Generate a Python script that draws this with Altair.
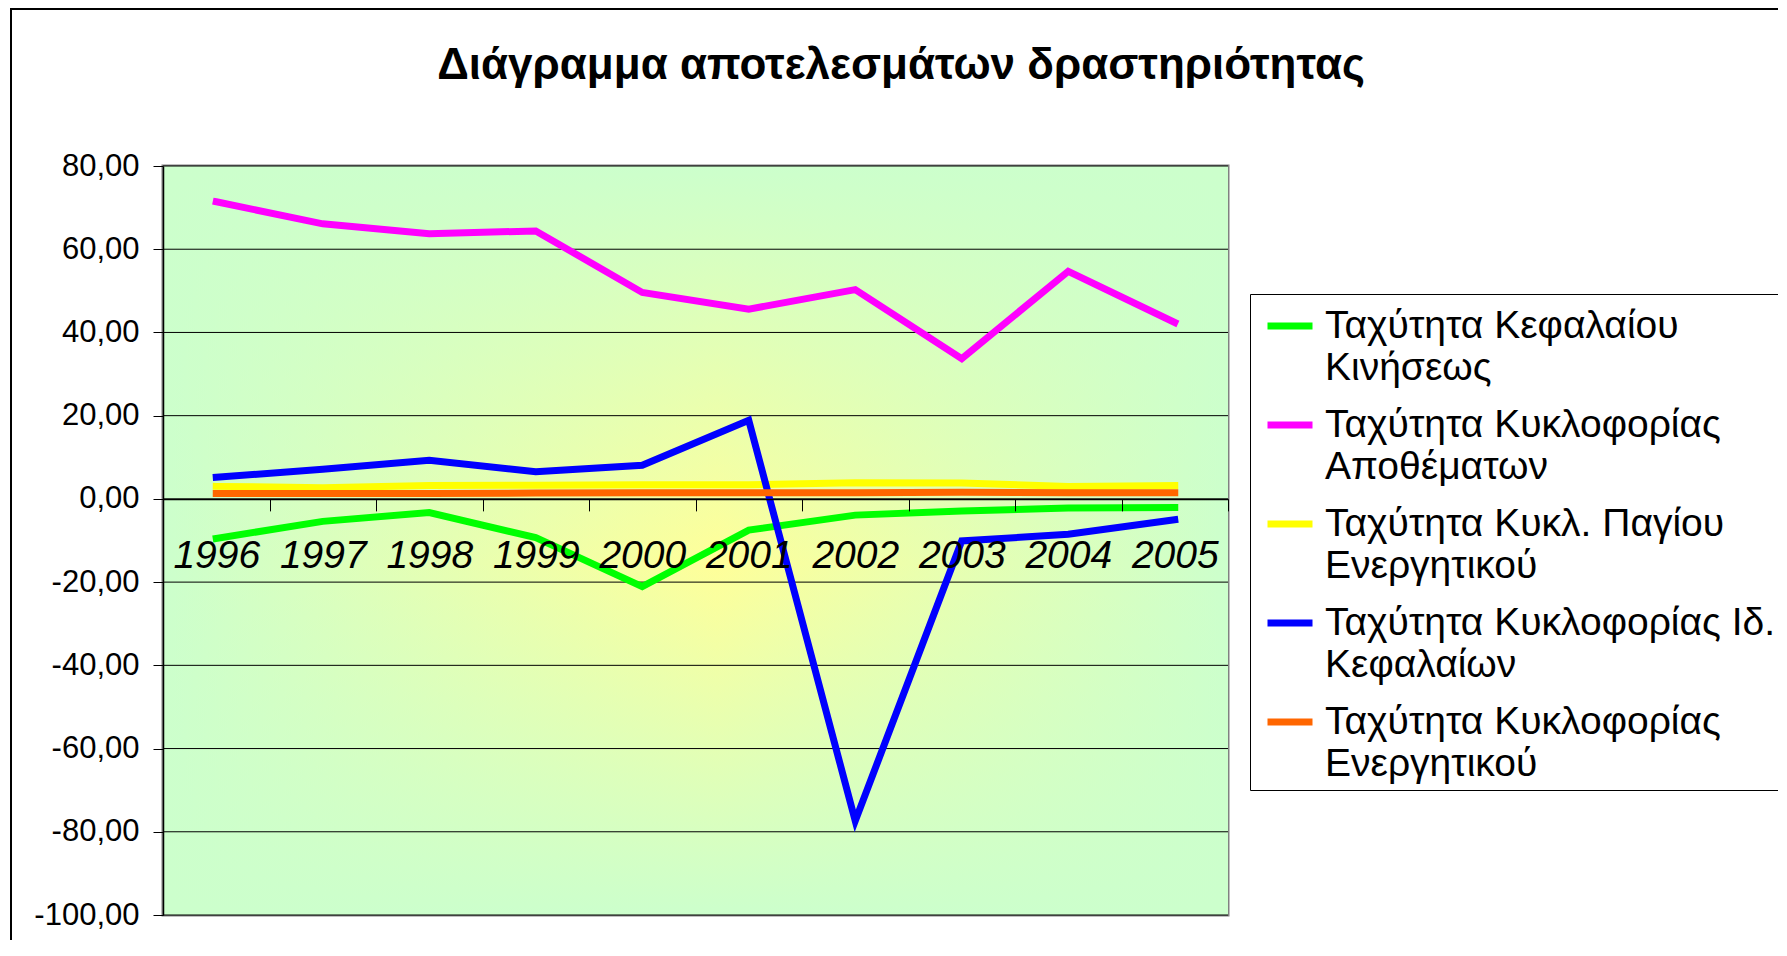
import altair as alt
import pandas as pd

# ---------------- data ----------------
years = ["1996", "1997", "1998", "1999", "2000", "2001", "2002", "2003", "2004", "2005"]

series = [
    "Ταχύτητα Κεφαλαίου\nΚινήσεως",
    "Ταχύτητα Κυκλοφορίας\nΑποθέματων",
    "Ταχύτητα Κυκλ. Παγίου\nΕνεργητικού",
    "Ταχύτητα Κυκλοφορίας Ιδ.\nΚεφαλαίων",
    "Ταχύτητα Κυκλοφορίας\nΕνεργητικού",
]
colors = ["#00FF00", "#FF00FF", "#FFFF00", "#0000FF", "#FF6600"]
widths = [7, 7, 3, 7, 7]

green = [-9.5, -5.4, -3.3, -9.3, -21.1, -7.5, -3.9, -2.9, -2.2, -2.1]
magenta = [71.4, 66.1, 63.7, 64.4, 49.6, 45.6, 50.3, 33.7, 54.7, 42.4]
yellow = [3.0, 2.7, 3.2, 3.3, 3.4, 3.4, 3.9, 3.8, 3.0, 3.2]
blue = [5.2, 7.1, 9.3, 6.5, 8.1, 18.9, -77.4, -10.1, -8.5, -5.0]
orange = [1.3, 1.3, 1.3, 1.4, 1.5, 1.5, 1.5, 1.6, 1.5, 1.5]

y_ticks = [-100, -80, -60, -40, -20, 0, 20, 40, 60, 80]
title_text = "Διάγραμμα αποτελεσμάτων δραστηριότητας"

# ---------------- tables ----------------
rows = []
for name, vals in zip(series, [green, magenta, yellow, blue, orange]):
    for yr, v in zip(years, vals):
        rows.append({"year": yr, "series": name, "value": v})
df = pd.DataFrame(rows)
one = pd.DataFrame({"k": [0]})
grid_df = pd.DataFrame({"t": y_ticks})

# ---------------- layout ----------------
PLOT_W = 1065
PLOT_H = 749
Y_MIN, Y_MAX = -100, 80
zero_from_bottom = PLOT_H * (0 - Y_MIN) / (Y_MAX - Y_MIN)
FONT = "Liberation Sans"

y_scale = alt.Scale(domain=[Y_MIN, Y_MAX], nice=False, zero=False)
y_axis = alt.Axis(
    values=y_ticks,
    labelExpr="(datum.value < 0 ? '-' : '') + replace(format(abs(datum.value), '.2f'), '.', ',')",
    title=None,
    grid=False,
    domainColor="#000000",
    domainWidth=1.5,
    tickColor="#000000",
    tickWidth=1,
    tickSize=10,
    labelPadding=14,
    labelFont=FONT,
    labelFontSize=31,
    labelColor="#000000",
    zindex=1,
)

x_axis = alt.Axis(
    title=None,
    orient="bottom",
    offset=-zero_from_bottom,
    labelAngle=0,
    labelFont=FONT,
    labelFontSize=39,
    labelFontStyle="italic",
    labelColor="#000000",
    labelPadding=26,
    tickSize=12,
    tickColor="#000000",
    tickWidth=1,
    tickBand="extent",
    domainColor="#000000",
    domainWidth=1.5,
    grid=False,
    zindex=1,
)

frame = alt.Chart(one).mark_rect(
    fillOpacity=0, stroke="#000000", strokeWidth=2
).encode(
    x=alt.value(-152), x2=alt.value(1787 - 163 + 30),
    y=alt.value(-157), y2=alt.value(956 - 166 + 30),
)

bg_h = alt.Chart(one).mark_rect(
    strokeWidth=0,
    fill=alt.Gradient(
        gradient="linear",
        stops=[
            alt.GradientStop(color="#CCFFCC", offset=0),
            alt.GradientStop(color="#FFFF99", offset=0.52),
            alt.GradientStop(color="#CCFFCC", offset=1),
        ],
        x1=0, x2=1, y1=0, y2=0,
    ),
).encode(x=alt.value(0), x2=alt.value(PLOT_W), y=alt.value(0), y2=alt.value(PLOT_H))

bg_v = alt.Chart(one).mark_rect(
    strokeWidth=0,
    fill=alt.Gradient(
        gradient="linear",
        stops=[
            alt.GradientStop(color="rgba(204,255,204,1)", offset=0),
            alt.GradientStop(color="rgba(204,255,204,0)", offset=0.53),
            alt.GradientStop(color="rgba(204,255,204,1)", offset=1),
        ],
        x1=0, x2=0, y1=0, y2=1,
    ),
).encode(x=alt.value(0), x2=alt.value(PLOT_W), y=alt.value(0), y2=alt.value(PLOT_H))

grid = alt.Chart(grid_df).mark_rule(color="#000000", strokeWidth=1).encode(
    y=alt.Y("t:Q", scale=y_scale, axis=y_axis)
)

legend = alt.Legend(
    title=None,
    orient="none",
    legendX=1250 - 163,
    legendY=294 - 166,
    direction="vertical",
    strokeColor="#000000",
    fillColor="#FFFFFF",
    padding=6,
    labelFont=FONT,
    labelFontSize=39,
    labelColor="#000000",
    labelLimit=900,
    labelOffset=9,
    labelBaseline="middle",
    labelExpr="split(datum.label, '\\n')",
    symbolType="stroke",
    symbolSize=2025,
    symbolOffset=8,
    rowPadding=11,
)

lines = alt.Chart(df).mark_line(strokeCap="square").encode(
    x=alt.X("year:O", sort=years,
            scale=alt.Scale(type="band", paddingInner=0, paddingOuter=0),
            axis=x_axis),
    y=alt.Y("value:Q", scale=y_scale, axis=y_axis),
    color=alt.Color("series:N", sort=series,
                    scale=alt.Scale(domain=series, range=colors),
                    legend=legend),
    strokeWidth=alt.StrokeWidth("series:N", sort=series,
                                scale=alt.Scale(domain=series, range=widths),
                                legend=legend),
    detail="series:N",
)

title = alt.Chart(one).mark_text(
    text=title_text, font=FONT, fontSize=44, fontWeight="bold",
    align="center", baseline="alphabetic", color="#000000",
).encode(x=alt.value(901 - 163), y=alt.value(79 - 166))

chart = alt.layer(frame, bg_h, bg_v, grid, lines, title).properties(
    width=PLOT_W,
    height=PLOT_H,
    autosize=alt.AutoSizeParams(type="none"),
    padding={"left": 155, "top": 158, "right": 550, "bottom": 25},
    background="#FFFFFF",
).configure(
    style={"guide-label": {"lineHeight": 42}}
).configure_view(
    stroke="#808080", strokeWidth=3
)

chart.save("out.html", embed_options={"renderer": "svg", "actions": False})
